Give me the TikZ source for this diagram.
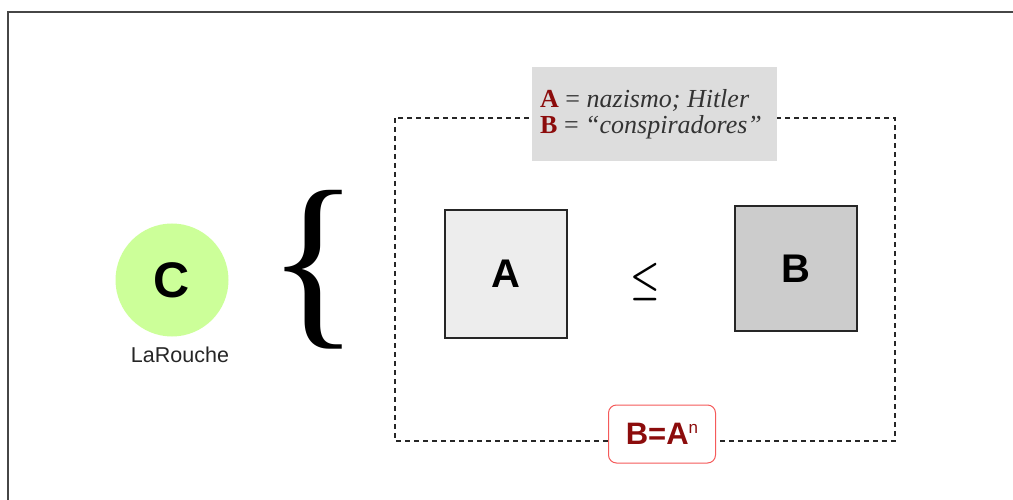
\documentclass[tikz,border=0pt]{standalone}
\usepackage{fontspec}
\setmainfont{Liberation Serif}
\setsansfont{Liberation Sans}
\usetikzlibrary{positioning}
\definecolor{darkred}{RGB}{140,12,12}
\definecolor{softred}{RGB}{245,90,90}
\definecolor{lightgreen}{RGB}{204,255,153}
\definecolor{framegray}{RGB}{70,70,70}
\definecolor{boxA}{RGB}{237,237,237}
\definecolor{boxB}{RGB}{204,204,204}
\definecolor{legendgray}{RGB}{221,221,221}
\tikzset{
  letterbox/.style={draw=black!85, line width=1.7pt, minimum width=122pt, minimum height=126pt,
    font=\sffamily\bfseries\fontsize{40}{44}\selectfont, inner sep=0pt},
  groupbox/.style={draw=black!85, line width=1.2pt, dash pattern=on 5pt off 4pt},
}
\begin{document}
\begin{tikzpicture}[x=1pt,y=-1pt]
  \useasboundingbox (0,0) rectangle (1013,500);
  % outer frame, running past the right and bottom edges
  \begin{scope}
    \clip (0,0) rectangle (1013,500);
    \draw[framegray, line width=2pt] (8,12) rectangle (1030,520);
  \end{scope}

  % subject circle
  \node[circle, fill=lightgreen, minimum size=113pt, inner sep=0pt,
        font=\sffamily\bfseries\fontsize{50}{54}\selectfont] (C) at (172,280) {C};
  \node[font=\sffamily\fontsize{21.5}{24}\selectfont, text=black!85] (Cname) at (180,355) {LaRouche};

  % big opening brace
  \node[inner sep=0pt, font=\fontsize{192}{192}\selectfont] (brace) at (314,269.5) {\{};

  % dashed group
  \draw[groupbox] (395,118) rectangle (895,441);

  % legend
  \node[fill=legendgray, minimum width=245pt, minimum height=94pt, inner sep=0pt] (legend) at (654.5,114) {};
  \node[anchor=base west, align=left, font=\fontsize{26}{26}\selectfont, text=black!80, inner sep=0pt] (legendtext) at (540,134)
    {\textcolor{darkred}{\textbf{A}} = \textit{nazismo; Hitler}\\
     \textcolor{darkred}{\textbf{B}} = \textit{“conspiradores”}};

  % the two boxes and the relation between them
  \node[letterbox, fill=boxA, minimum height=128pt] (A) at (506,274) {A};
  \node[letterbox, fill=boxB, minimum height=125pt] (B) at (796,268.5) {B};
  \node[inner sep=0pt] (leq) at (645,282) {\scalebox{3.3}[4.2]{\boldmath$\leq$}};

  % formula tag on the lower edge of the group
  \node[draw=softred, fill=white, line width=1pt, rounded corners=8pt, minimum width=107pt, minimum height=58pt,
        inner sep=0pt, text=darkred, font=\sffamily\bfseries\fontsize{31}{34}\selectfont] (formula) at (662,434)
        {B=A\raisebox{11pt}{\fontsize{17}{18}\selectfont\mdseries n}};
\end{tikzpicture}
\end{document}
